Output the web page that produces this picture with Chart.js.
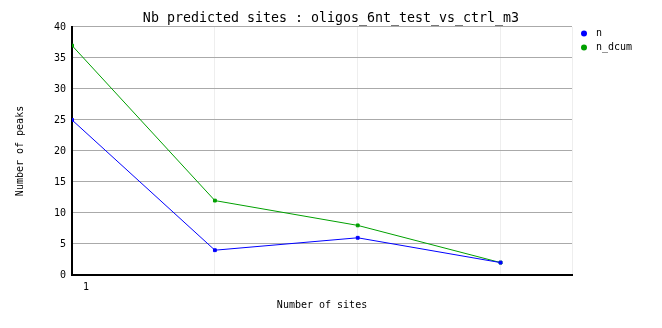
<!DOCTYPE html>
<html lang="en">
  <head>
    <meta charset="UTF-8" />
    <script src="https://cdn.jsdelivr.net/npm/chart.js"></script>
    <title>Nb predicted sites</title>
    <style>
      html, body { margin: 0; padding: 0; background: #fff; }
      #wrap { width: 662px; height: 328px; }
    </style>
  </head>
  <body>
    <div id="wrap"><canvas id="myChart" width="662" height="328"></canvas></div>

    <script>
      const sites = [1, 2, 3, 4];
      const nValues = [25, 4, 6, 2];
      const nDcumValues = [37, 12, 8, 2];
      const seriesNames = ['n', 'n_dcum'];
      const seriesColors = ['#0000ff', '#00a000'];

      const FONT = '"DejaVu Sans Mono", monospace';

      // legend drawn by hand in the right margin
      const sideLegend = {
        id: 'sideLegend',
        afterDraw(chart) {
          const ctx = chart.ctx;
          ctx.save();
          ctx.font = '10px ' + FONT;
          ctx.textBaseline = 'middle';
          chart.data.datasets.forEach((ds, i) => {
            const y = 33.5 + i * 14;
            ctx.fillStyle = ds.borderColor;
            ctx.beginPath();
            ctx.arc(584, y, 3, 0, Math.PI * 2);
            ctx.fill();
            ctx.fillStyle = '#000';
            ctx.fillText(ds.label, 596, y);
          });
          ctx.restore();
        },
      };

      const ctx = document.getElementById('myChart').getContext('2d');
      new Chart(ctx, {
        type: 'line',
        data: {
          datasets: [
            {
              label: seriesNames[0],
              data: sites.map((s, i) => ({ x: s, y: nValues[i] })),
              borderColor: seriesColors[0],
              backgroundColor: seriesColors[0],
              borderWidth: 1,
              pointStyle: 'rect',
              pointRadius: 2,
            },
            {
              label: seriesNames[1],
              data: sites.map((s, i) => ({ x: s, y: nDcumValues[i] })),
              borderColor: seriesColors[1],
              backgroundColor: seriesColors[1],
              borderWidth: 1,
              pointStyle: 'rect',
              pointRadius: 2,
            },
          ],
        },
        options: {
          responsive: false,
          animation: false,
          layout: { padding: { left: 0, right: 0, top: 0, bottom: 17 } },
          plugins: {
            legend: { display: false },
            tooltip: { enabled: false },
            title: {
              display: true,
              text: 'Nb predicted sites : oligos_6nt_test_vs_ctrl_m3',
              color: '#000',
              font: { family: FONT, size: 13.3, weight: 'normal' },
              padding: { top: 11, bottom: 0 },
            },
          },
          scales: {
            x: {
              type: 'linear',
              min: 1,
              max: 4.5,
              grid: { color: '#eeeeee', drawTicks: false },
              border: { color: '#000', width: 2 },
              ticks: {
                stepSize: 1,
                color: '#000',
                font: { family: FONT, size: 10, lineHeight: 0.6 },
                padding: 9,
                labelOffset: 14,
                callback: (v) => (v === 1 ? '1' : ''),
              },
              title: {
                display: true,
                text: 'Number of sites',
                color: '#000',
                font: { family: FONT, size: 10 },
                padding: { top: 0, bottom: 0 },
              },
            },
            y: {
              min: 0,
              max: 40,
              grid: { color: '#aaaaaa', drawTicks: false },
              border: { color: '#000', width: 2 },
              ticks: {
                stepSize: 5,
                color: '#000',
                font: { family: FONT, size: 10 },
                padding: 6,
              },
              title: {
                display: true,
                text: 'Number of peaks',
                color: '#000',
                font: { family: FONT, size: 10 },
                padding: { top: 14, bottom: 22 },
              },
            },
            // empty right-hand axis that only reserves room for the legend
            yRight: {
              position: 'right',
              grid: { display: false },
              border: { display: false },
              ticks: { display: false },
              afterFit(scale) {
                scale.width = 90;
              },
            },
          },
        },
        plugins: [sideLegend],
      });
    </script>
  </body>
</html>
